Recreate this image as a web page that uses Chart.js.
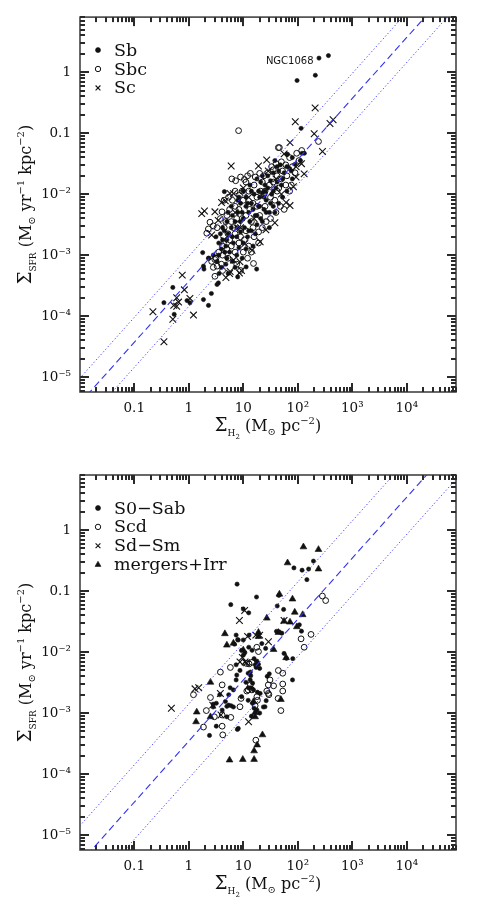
<!DOCTYPE html>
<html>
<head>
<meta charset="utf-8">
<script src="https://cdn.jsdelivr.net/npm/chart.js@4.4.1/dist/chart.umd.min.js"></script>
<style>
  body { margin: 0; background: #fff; }
  #wrap { position: relative; width: 477px; height: 910px; }
  canvas { position: absolute; left: 0; }
</style>
</head>
<body>
<div id="wrap">
  <canvas id="top-chart" width="477" height="455" style="top:0"></canvas>
  <canvas id="bottom-chart" width="477" height="455" style="top:455px"></canvas>
</div>
<script>
// axis ticks (log10 decades) and their labels
const xTicks = [0.1, 1, 10, 100, 1000, 10000];
const xTickLabels = ['0.1', '1', '10', '10²', '10³', '10⁴'];
const yTicks = [1e-5, 1e-4, 1e-3, 1e-2, 0.1, 1];
const yTickLabels = ['10⁻⁵', '10⁻⁴', '10⁻³', '10⁻²', '0.1', '1'];
const xRange = [0.0101, 80000];
const yRange = [5.7e-6, 8.0];

// minor tick multipliers inside each decade
const tickMult = [1, 2, 3, 4, 5, 6, 7, 8, 9];
const decades = [-6, -5, -4, -3, -2, -1, 0, 1, 2, 3, 4, 5];

// fit lines: log SFR = log H2 + offset, dotted at +/- spread
const topFit = { offset: -3.43, spread: 0.41 };
const bottomFit = { offset: -3.46, spread: 0.61 };
const fitX = [0.01, 100000];

// top panel: Sb, Sbc, Sc  [Sigma_H2, Sigma_SFR]
const sbPoints = [
  [245,1.7],[365,1.87],[210,0.89],[97,0.73],[115,0.12],[65,0.045],[4.5,0.011],
  [1.8,1.1e-3],[2.35,8.9e-4],[1.86,6.6e-4],[1.9,5.9e-4],[3.6,5e-4],[2.6,2.35e-4],[1.86,1.87e-4],[2.3,1.5e-4],
  [3.5,3.5e-4],[3.3,3.3e-4],[0.51,2.95e-4],[0.35,1.66e-4],[0.54,1.07e-4],[1.05,1.65e-4],[0.93,1.8e-4],
  [17.6,5.9e-4],[7.9,4.4e-4],[5.3,5e-4],[11.3,6.4e-4],
  [63.1,0.0447],[79.4,0.0398],[89.1,0.0309],[112,0.0355],[120,0.0468],[132,0.0468],[70.8,0.0263],[56.2,0.0224],
  [79.4,0.0178],[50.1,0.0141],[63.1,0.0112],[41.7,0.0282],[35.5,0.0224],[31.6,0.0166],[39.8,0.0126],[28.2,0.0126],
  [33.1,0.01],[25.1,0.0141],[22.4,0.0105],[20,8.91e-3],[26.3,7.94e-3],[19.1,6.31e-3],[24,5.62e-3],[15.8,0.01],
  [14.1,7.08e-3],[16.6,4.47e-3],[12.6,5.01e-3],[11.2,6.31e-3],[10,3.98e-3],[8.91,7.08e-3],[7.94,5.01e-3],
  [7.08,3.55e-3],[6.31,4.47e-3],[6.03,2.82e-3],[5.01,3.55e-3],[5.25,2.24e-3],[4.47,2.51e-3],[4.17,1.78e-3],
  [3.55,1.58e-3],[3.98,1.26e-3],[3.16,2e-3],[4.79,1.41e-3],[5.62,1.12e-3],[6.61,1.58e-3],[7.59,2e-3],[8.91,2.4e-3],
  [10.5,2.82e-3],[12,2e-3],[14.1,2.51e-3],[17.8,3.16e-3],[20.9,3.98e-3],[30.2,5.01e-3],[35.5,6.31e-3],
  [5.01,8.9e-4],[6.31,7.9e-4],[7.59,1e-3],[9.55,8.9e-4],[11.2,1.26e-3],[15.1,1.41e-3],[2.82,1e-3],[3.31,7.9e-4],
  [3.98,6.3e-4],[4.79,7.1e-4],[2.29,8.9e-4],[38,0.0355],[47.9,0.0302],[52.5,8.91e-3],[44.7,7.08e-3],
  [13.2,0.0141],[10,0.0112],[8.32,8.91e-3],[17.8,0.0178],[22.4,0.02],
  [8.91,3.55e-3],[11.2,8.91e-3],[15.1,5.62e-3],[19.1,0.0112],[24,8.91e-3],[28.2,0.02],[35.5,0.0112],[41.7,0.0158],
  [52.5,0.0178],[31.6,7.08e-3],[22.4,3.55e-3],[16.6,2.24e-3],[13.2,3.55e-3],[7.59,2.82e-3],[6.31,2e-3],
  [5.01,1.78e-3],[4.17,2.82e-3],[3.8,2.24e-3],[8.32,1.32e-3],[10,1.58e-3],[7.08,6.3e-4],[20,6.31e-3],
  [26.3,5.01e-3],[44.7,0.024],[63.1,0.0282],[75.9,0.024],[14.1,0.0112],[12,7.08e-3],[6.03,6.31e-3],
  [5.25,5.01e-3],[9.55,5.01e-3],[17.8,4.47e-3],[25.1,0.0112],[30.2,2.82e-3],[4.57,1.12e-3],[3.55,1e-3],
  [12.6,2.51e-3],[38,5.01e-3],[7.94,7.94e-3],[20.9,0.0158]
];
const sbcPoints = [
  [8.2,0.11],[240,0.073],[118,0.052],[46,0.058],[44,0.058],[3.0,8.5e-4],[15.4,7.3e-4],
  [6.17,0.0178],[7.24,0.0166],[8.91,0.0191],[10.5,0.0174],[12,0.02],[13.5,0.0219],[8.51,9.55e-3],[9.55,0.0112],
  [16.6,0.0191],[20,0.0219],[24,0.02],[33.1,0.0282],[39.8,0.0316],[50.1,0.0339],[60.3,0.0302],[95.5,0.0468],
  [105,0.0355],[2.45,3.47e-3],[2.82,3.02e-3],[2.29,2.69e-3],[3.31,2.82e-3],[4.07,5.13e-3],[2.14,2.29e-3],
  [5.62,5.62e-3],[7.08,6.31e-3],[5.01,4.47e-3],[6.03,3.55e-3],[7.94,3.16e-3],[9.55,3.98e-3],[11.2,4.47e-3],
  [13.2,5.62e-3],[15.1,7.08e-3],[17.8,8.91e-3],[20.9,0.0112],[25.1,0.0112],[30.2,0.0141],[35.5,0.0158],
  [41.7,0.02],[52.5,0.024],[63.1,0.02],[50.1,0.0178],[3.55,1.12e-3],[4.17,1e-3],[5.01,1.26e-3],[6.03,1.41e-3],
  [3.16,8.9e-4],[2.63,7.9e-4],[2.82,6.3e-4],[3.31,6.6e-4],[3.98,7.1e-4],[10.5,1.78e-3],[12.6,1.41e-3],
  [14.1,1.12e-3],[12,8.9e-4],[10,1.12e-3],[15.8,2e-3],[19.1,2.4e-3],[22.4,2.82e-3],[26.3,3.55e-3],[31.6,3.98e-3],
  [39.8,5.01e-3],[47.9,6.31e-3],[56.2,5.62e-3],[4.47,2.82e-3],[5.25,2.24e-3],[7.08,2.24e-3],[8.32,1.58e-3],
  [3.02,4.5e-4],[4.17,5.6e-4],[7.59,7.1e-4],[8.91,5.6e-4],[70.8,0.0398],[79.4,0.0282],[89.1,0.0224],
  [75.9,0.0141],[5.37,8.91e-3],[4.47,7.94e-3],[3.8,3.98e-3],
  [7.08,0.0112],[10,7.94e-3],[12.6,0.0112],[15.8,0.0141],[22.4,0.0158],[28.2,0.0224],[35.5,0.0251],[44.7,0.0126],
  [31.6,8.91e-3],[25.1,6.31e-3],[20,4.47e-3],[14.1,3.55e-3],[11.2,2.51e-3],[8.91,2e-3],[6.61,2.82e-3],
  [4.79,3.55e-3],[5.62,1.78e-3],[4.17,1.41e-3],[7.59,3.98e-3],[6.31,7.94e-3],[8.32,5.62e-3],[17.8,6.31e-3],
  [24,0.01],[38,7.94e-3],[15.1,2.82e-3],[19.1,1.58e-3],[5.25,8.9e-4],[7.08,1.12e-3],[11.2,0.0158],[41.7,0.0112],
  [60.3,0.0141],[70.8,0.0112]
];
const scPoints = [
  [208,0.26],[90,0.154],[200,0.098],[445,0.166],[390,0.144],[284,0.05],[72,0.07],[6,0.029],[19,0.029],
  [131,0.0215],[93,0.019],[72,6.5e-3],[61,7.3e-3],[38,3.4e-3],[26,2.6e-3],[1.73,4.8e-3],[1.94,5.3e-3],
  [4,7.3e-3],[5.7,0.0103],
  [0.76,4.7e-4],[0.83,2.7e-4],[0.6,2e-4],[0.6,1.45e-4],[0.65,1.7e-4],[1.05,1.95e-4],[0.22,1.18e-4],
  [0.51,8.9e-5],[1.22,1.04e-4],[0.35,3.8e-5],[4.8,4.3e-4],[5.6,5e-4],[8.5,5.1e-4],[9.3,5.6e-4],[8.7,7.8e-4],
  [0.53,1.5e-4],
  [26.9,0.0363],[28.8,0.024],[56.2,0.0457],[93.3,0.0282],[117,0.0316],[4.68,7.76e-3],[6.61,0.0102],
  [3.02,5.13e-3],[3.47,3.72e-3],[7.08,5.01e-3],[83.2,0.0132],[2.63,2.14e-3],[4.37,1.78e-3],[10.7,1.55e-3],
  [14.5,1.2e-3],[20.4,1.66e-3],[6.61,8.3e-4],[5.75,5.4e-4],[10,0.0126],[12.6,8.91e-3],[15.8,3.98e-3],
  [8.91,2.82e-3],[39.8,0.0178],[50.1,0.01]
];

// bottom panel: S0-Sab, Scd, Sd-Sm, mergers+Irr
const s0sabPoints = [
  [7.7,0.13],[5.9,0.06],[17.5,0.08],[10,0.051],[12.6,0.044],[194,0.31],[85,0.24],[120,0.22],[158,0.23],
  [147,0.154],[45,0.085],[42,0.057],[55,0.05],[107,0.028],[117,0.022],[56,0.0095],[81,0.0078],[80,3.5e-3],
  [2.4,4.3e-4],[7.8,5.4e-4],[3.2,6.1e-4],
  [12.8,0.019],[10,0.0158],[8.1,0.0158],[6.9,0.0135],[9.3,0.0107],[10.7,9.8e-3],[10,8.9e-3],[14.5,0.0107],
  [15.8,7.8e-3],[16.6,6.2e-3],[17.8,7.1e-3],[20,5.4e-3],[19,6.3e-3],[12.3,4.5e-3],[13.5,4.7e-3],[7.6,4.2e-3],
  [7.4,3.5e-3],[5.75,2.6e-3],[6.6,2.4e-3],[5.4,2e-3],[3.7,2e-3],[9.3,1.86e-3],[4.7,1.55e-3],[5.4,1.35e-3],
  [6,1.32e-3],[6.6,1.26e-3],[5,1.29e-3],[4.1,1.12e-3],[3.2,1.45e-3],[12.3,1.62e-3],[14.8,1.45e-3],[15.8,1.2e-3],
  [17.8,1.12e-3],[20,1e-3],[14.1,8.9e-4],[8.1,5.6e-4],[23.4,1.26e-3],[25,1.27e-3],[27.5,4e-3],[30,4.4e-3],
  [62,7.9e-3],[40.7,0.0219],[45.7,0.0214],[51,0.0204],[7.4,6.2e-3],[8.7,5e-3],[11.2,3.2e-3],[13.4,3.5e-3],
  [13.7,2.6e-3],[15.4,2.4e-3],[18.2,2.2e-3],[20.4,2.1e-3],[26.3,1.6e-3],[5,8.7e-4],[2.8,1.26e-3],[13.7,4.1e-3],
  [25.7,0.0115],[21.9,0.0138],[2.8,1.4e-3],[7.4,0.019],[7.9,0.016],[12.6,0.012],[17.2,5.6e-3],[14.8,3.1e-3],
  [12.4,2.6e-3]
];
const scdPoints = [
  [283,0.083],[325,0.07],[175,0.0195],[115,0.0165],[131,0.012],[49,1.1e-3],[44,5e-3],[53,4.5e-3],[53,3e-3],
  [53,2.3e-3],[43.6,1.74e-3],[29.5,2e-3],[27,2.3e-3],[36,2.8e-3],[17.7,0.012],[19,0.0102],[14.5,6.8e-3],
  [12.8,6.4e-3],[16.5,1.32e-3],[17,3.6e-4],[3.8,4.7e-3],[5.8,5.6e-3],[4.1,2.9e-3],[2.5,1.8e-3],[2.1,1.1e-3],
  [1.86,5.9e-4],[1.22,2e-3],[4.1,6.1e-4],[4.2,4.4e-4],[8.7,1.27e-3],[11.6,2.3e-3],
  [13.5,2.9e-3],[12.3,2.4e-3],[17.8,1.86e-3],[18.2,1.62e-3],[9.1,1.74e-3],[28.8,2.9e-3],[30.9,3.5e-3],
  [28.8,2.1e-3],[2.95,8.7e-4],[4.1,9.3e-4],[5.9,8.5e-4],[11.5,6.5e-3],[14.4,2.4e-3]
];
const sdsmPoints = [
  [0.48,1.2e-3],[1.3,2.5e-3],[1.52,2.6e-3],[8.5,0.033],[10.6,0.048],[12,0.018],[17,0.019],[29,0.0148],
  [9.6,8.2e-3],[8.7,6.9e-3],[10.8,6.9e-3],[11.5,6.7e-3],[3.8,2.1e-3],[3.9,9.3e-4],[12.5,7.2e-4],[56,0.033],
  [2.75,1.35e-3],[20,0.019]
];
const mergerPoints = [
  [127,0.53],[240,0.48],[240,0.23],[65,0.29],[80,0.074],[88,0.045],[123,0.041],[46,0.089],[27,0.036],
  [56,0.032],[72,0.031],[96,0.026],[44,0.021],[19,0.021],[4.6,0.02],[5,0.013],[6.6,0.014],[10,0.0108],
  [19,0.018],[36,0.011],[61,0.0081],[2.5,3.2e-3],[1.4,1.04e-3],[1.36,7.2e-4],[2.5,8.7e-4],[16.5,1.02e-3],
  [16.5,8.7e-4],[15.4,1.54e-3],[49,1.67e-3],[18,3e-4],[22.5,4.4e-4],[15.8,2.4e-4],[15.8,1.74e-4],
  [9.8,1.74e-4],[5.6,1.7e-4]
];

const FONT = "'DejaVu Serif', serif";
const INK = '#111';

const markers = {
  filled: { pointStyle: 'circle', pointRadius: 2.1, pointBorderWidth: 0.6, pointBackgroundColor: INK, pointBorderColor: INK },
  open: { pointStyle: 'circle', pointRadius: 2.9, pointBorderWidth: 1, pointBackgroundColor: 'rgba(0,0,0,0)', pointBorderColor: INK },
  cross: { pointStyle: 'crossRot', pointRadius: 4.7, pointBorderWidth: 1.1, pointBorderColor: INK },
  tri: { pointStyle: 'triangle', pointRadius: 3.9, pointBorderWidth: 0.6, pointBackgroundColor: INK, pointBorderColor: INK }
};

function scatterSet(label, pts, kind) {
  return Object.assign({
    label: label,
    data: pts.map(p => ({ x: p[0], y: p[1] })),
    showLine: false
  }, markers[kind]);
}

function fitSets(fit) {
  const mk = (off, dash, color, w) => ({
    label: 'fit',
    data: fitX.map(x => ({ x: x, y: x * Math.pow(10, off) })),
    showLine: true,
    pointRadius: 0,
    borderColor: color,
    borderWidth: w,
    borderDash: dash
  });
  return [
    mk(fit.offset, [7, 4], 'rgb(50,50,240)', 1.1),
    mk(fit.offset + fit.spread, [1.2, 2.3], 'rgb(60,60,255)', 1),
    mk(fit.offset - fit.spread, [1.2, 2.3], 'rgb(60,60,255)', 1)
  ];
}

function richText(ctx, parts, x, y, vertical) {
  let total = 0;
  parts.forEach(p => { ctx.font = p[1] + 'px ' + FONT; p.w = ctx.measureText(p[0]).width; total += p.w; });
  ctx.save();
  ctx.translate(x, y);
  if (vertical) ctx.rotate(-Math.PI / 2);
  ctx.fillStyle = INK;
  ctx.textBaseline = 'alphabetic';
  ctx.textAlign = 'left';
  let cx = -total / 2;
  parts.forEach(p => {
    ctx.font = p[1] + 'px ' + FONT;
    ctx.fillText(p[0], cx, p[2]);
    cx += p.w;
  });
  ctx.restore();
}

const yTitle = [['Σ', 18, 0], ['SFR', 9, 5], [' (M', 16, 0], ['⊙', 10, 4], [' yr', 16, 0], ['−1', 10, -7],
  [' kpc', 16, 0], ['−2', 10, -7], [')', 16, 0]];
const xTitle = [['Σ', 18, 0], ['H', 9, 5], ['2', 7, 8], [' (M', 16, 0], ['⊙', 10, 4], [' pc', 16, 0],
  ['−2', 10, -7], [')', 16, 0]];

// inward ticks on all four sides of the frame
const tickPlugin = {
  id: 'inTicks',
  afterDraw(chart) {
    const ctx = chart.ctx, a = chart.chartArea, xs = chart.scales.x, ys = chart.scales.y;
    ctx.save();
    ctx.globalAlpha = 1;
    ctx.globalCompositeOperation = 'source-over';
    ctx.setLineDash([]);
    ctx.fillStyle = '#2a2a2a';
    decades.forEach(e => tickMult.forEach(m => {
      const v = m * Math.pow(10, e);
      const len = m === 1 ? 9 : 5;
      if (v >= xRange[0] && v <= xRange[1]) {
        const px = Math.round(xs.getPixelForValue(v));
        ctx.fillRect(px - 1, a.bottom - len, 2, len);
        ctx.fillRect(px - 1, a.top, 2, len);
      }
      if (v >= yRange[0] && v <= yRange[1]) {
        const py = Math.round(ys.getPixelForValue(v));
        ctx.fillRect(a.left, py - 1, len, 2);
        ctx.fillRect(a.right - len, py - 1, len, 2);
      }
    }));
    ctx.restore();
  }
};

const framePlugin = {
  id: 'frame',
  afterDraw(chart, args, opts) {
    const ctx = chart.ctx;
    const a = chart.chartArea;
    const xs = chart.scales.x;
    const ys = chart.scales.y;
    ctx.save();
    ctx.setLineDash([]);
    ctx.lineWidth = 1.6;
    ctx.strokeStyle = '#444';
    ctx.strokeRect(a.left, a.top, a.right - a.left, a.bottom - a.top);

    // legend
    opts.items.forEach((it, i) => {
      const ly = a.top + 33 + i * 18.9;
      const mk = markers[it.kind];
      ctx.fillStyle = mk.pointBackgroundColor || INK;
      ctx.strokeStyle = INK;
      ctx.lineWidth = mk.pointBorderWidth;
      Chart.helpers.drawPoint(ctx, { pointStyle: mk.pointStyle, radius: it.r, borderWidth: mk.pointBorderWidth, rotation: 0 }, a.left + 18, ly);
      ctx.fillStyle = INK;
      ctx.font = '17.5px ' + FONT;
      ctx.textBaseline = 'middle';
      ctx.textAlign = 'left';
      ctx.fillText(it.label, a.left + 34, ly + 1);
    });

    if (opts.note) {
      ctx.font = "10px 'DejaVu Sans', sans-serif";
      ctx.fillStyle = INK;
      ctx.textBaseline = 'alphabetic';
      ctx.textAlign = 'left';
      ctx.fillText(opts.note.text, xs.getPixelForValue(opts.note.x), ys.getPixelForValue(opts.note.y));
    }

    richText(ctx, yTitle, 31, (a.top + a.bottom) / 2, true);
    richText(ctx, xTitle, (a.left + a.right) / 2, a.bottom + 39, false);
    ctx.restore();
  }
};

function makeChart(id, sets, fit, items, padTop, xAxisH, note) {
  return new Chart(document.getElementById(id), {
    type: 'scatter',
    data: { datasets: fitSets(fit).concat(sets) },
    plugins: [framePlugin, tickPlugin],
    options: {
      responsive: false,
      animation: false,
      layout: { padding: { top: padTop, right: 21, left: 0, bottom: 0 } },
      plugins: {
        legend: { display: false },
        tooltip: { enabled: false },
        frame: { items: items, note: note }
      },
      scales: {
        x: {
          type: 'logarithmic',
          min: xRange[0], max: xRange[1],
          afterFit: s => { s.height = xAxisH; },
          afterBuildTicks: s => { s.ticks = xTicks.map(v => ({ value: v })); },
          grid: { display: false, drawTicks: false },
          border: { display: false },
          ticks: {
            autoSkip: false, maxRotation: 0, padding: 8, color: INK,
            font: { family: FONT, size: 13.5 },
            callback: (v, i) => xTickLabels[i]
          }
        },
        y: {
          type: 'logarithmic',
          min: yRange[0], max: yRange[1],
          afterFit: s => { s.width = 80; },
          afterBuildTicks: s => { s.ticks = yTicks.map(v => ({ value: v })); },
          grid: { display: false, drawTicks: false },
          border: { display: false },
          ticks: {
            autoSkip: false, padding: 9, color: INK,
            font: { family: FONT, size: 13.5 },
            callback: (v, i) => yTickLabels[i]
          }
        }
      }
    }
  });
}

makeChart('top-chart', [
  scatterSet('Sb', sbPoints, 'filled'),
  scatterSet('Sbc', sbcPoints, 'open'),
  scatterSet('Sc', scPoints, 'cross')
], topFit, [
  { label: 'Sb', kind: 'filled', r: 2.5 },
  { label: 'Sbc', kind: 'open', r: 2.7 },
  { label: 'Sc', kind: 'cross', r: 3.4 }
], 17, 63, { text: 'NGC1068', x: 26, y: 1.35 });

makeChart('bottom-chart', [
  scatterSet('S0-Sab', s0sabPoints, 'filled'),
  scatterSet('Scd', scdPoints, 'open'),
  scatterSet('Sd-Sm', sdsmPoints, 'cross'),
  scatterSet('mergers+Irr', mergerPoints, 'tri')
], bottomFit, [
  { label: 'S0−Sab', kind: 'filled', r: 2.5 },
  { label: 'Scd', kind: 'open', r: 2.7 },
  { label: 'Sd−Sm', kind: 'cross', r: 3.4 },
  { label: 'mergers+Irr', kind: 'tri', r: 3.4 }
], 20, 60, null);
</script>
</body>
</html>
